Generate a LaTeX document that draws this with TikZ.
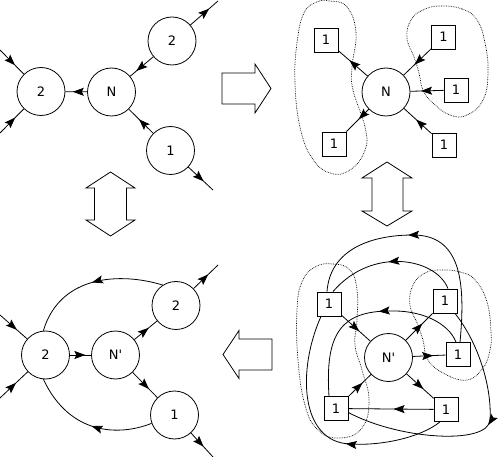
\documentclass[tikz,border=0pt]{standalone}
\usepackage{fontspec}
\setmainfont{DejaVu Sans}[Ligatures=TeXOff]
\usetikzlibrary{arrows.meta,decorations.markings,calc}
\tikzset{
  cnode/.style={circle,draw,line width=0.8pt,minimum size=48pt,inner sep=0pt,font=\fontsize{13}{15}\selectfont},
  bnode/.style={rectangle,draw,line width=0.8pt,minimum size=24pt,inner sep=0pt,font=\fontsize{13}{15}\selectfont},
  ln/.style={line width=0.8pt},
  mid/.style={postaction={decorate},decoration={markings,mark=at position #1 with {\arrow{Stealth[length=11pt,width=8pt,inset=2pt]}}}},
  mid/.default=0.65,
  loopd/.style={densely dotted,line width=0.7pt},
  bigarrow/.style={draw,line width=0.8pt,line join=miter},
}
\begin{document}
\begin{tikzpicture}[x=1pt,y=-1pt]
\useasboundingbox (0,0) rectangle (498,457);

% ---------- top-left panel ----------
\node[cnode] (L2) at (41,91.5) {2};
\node[cnode] (N1) at (111.5,92) {N};
\node[cnode] (T2) at (172,41) {2};
\node[cnode] (B1) at (170.5,150.5) {1};
\coordinate (a1) at (0,50);
\coordinate (a2) at (0,133);
\coordinate (a3) at (218,1);
\coordinate (a4) at (213,190);
\draw[ln,mid=0.66] (N1) -- (L2);
\draw[ln,mid=0.73] (T2) -- (N1);
\draw[ln,mid=0.58] (B1) -- (N1);
\draw[ln,mid=0.68] (T2) -- (a3);
\draw[ln,mid=0.62] (B1) -- (a4);
\draw[ln,mid=0.63] (a1) -- (L2);
\draw[ln,mid=0.64] (a2) -- (L2);

% ---------- top-right panel ----------
\node[cnode] (N2) at (386,92) {N};
\node[bnode] (TL2) at (326,40) {1};
\node[bnode] (BL2) at (334,144) {1};
\node[bnode] (TR2) at (443.5,37) {1};
\node[bnode] (MR2) at (456,90) {1};
\node[bnode] (BR2) at (444,145) {1};
\draw[ln,mid=0.62] (N2) -- (TL2);
\draw[ln,mid=0.45] (N2) -- (BL2);
\draw[ln,mid=0.6] (TR2) -- (N2);
\draw[ln,mid=0.68] (MR2) -- (N2);
\draw[ln,mid=0.56] (BR2) -- (N2);
\draw[loopd] plot[smooth cycle,tension=0.75] coordinates {
  (330,1) (347,7) (356,33) (352,67) (353,90) (365,127) (365,150) (350,170)
  (330,173) (312,158) (300,127) (295,83) (297,43) (304,13) (317,2)};
\draw[loopd] plot[smooth cycle,tension=0.75] coordinates {
  (440,6) (462,9) (477,20) (485,43) (488,73) (483,100) (467,115) (450,115)
  (433,103) (423,90) (419,73) (414,57) (407,38) (411,20) (423,10)};

% ---------- bottom-left panel ----------
\node[cnode] (L2b) at (45.5,355) {2};
\node[cnode] (Npb) at (115.5,355) {N'};
\node[cnode] (T2b) at (176,305.5) {2};
\node[cnode] (B1b) at (174.5,415) {1};
\coordinate (b1) at (0,315);
\coordinate (b2) at (0,398);
\coordinate (b3) at (218,265);
\coordinate (b4) at (213,457);
\draw[ln,mid=0.73] (L2b) -- (Npb);
\draw[ln,mid=0.63] (Npb) -- (T2b);
\draw[ln,mid=0.66] (Npb) -- (B1b);
\draw[ln,mid=0.6] (T2b) -- (b3);
\draw[ln,mid=0.57] (B1b) -- (b4);
\draw[ln,mid=0.62] (b1) -- (L2b);
\draw[ln,mid=0.58] (b2) -- (L2b);
\draw[ln,mid=0.5] (T2b.123) .. controls (120,272) and (60,275) .. (L2b.95);
\draw[ln,mid=0.47] (B1b.200) .. controls (120,436) and (70,436) .. (L2b.265);

% ---------- bottom-right panel ----------
\node[cnode] (Np) at (388.5,357.5) {N'};
\node[bnode] (TL) at (329,304) {1};
\node[bnode] (TR) at (445,301) {1};
\node[bnode] (MR) at (458,354.5) {1};
\node[bnode] (BL) at (336,408.5) {1};
\node[bnode] (BR) at (446,409.5) {1};
\draw[ln,mid=0.62] (TL) -- (Np);
\draw[ln,mid=0.62] (Np) -- (TR);
\draw[ln,mid=0.62] (Np) -- (MR);
\draw[ln,mid=0.62] (BL) -- (Np);
\draw[ln,mid=0.62] (Np) -- (BR);
\draw[ln,mid=0.47] (BR) -- (BL);
\draw[ln,mid=0.56] ([xshift=2pt]MR.north) .. controls (466,280) and (460,235) .. (413,235)
   .. controls (370,235) and (330,250) .. ([xshift=-2pt]TL.north);
\draw[ln,mid=0.52] ([xshift=3pt]TR.north) .. controls (436,258) and (372,246) .. ([xshift=4pt]TL.north);
\draw[ln,mid=0.44] ([xshift=-2pt]MR.north) .. controls (448,322) and (420,310) .. (390,311)
   .. controls (340,311) and (325,335) .. ([xshift=-7pt]BL.north);
\draw[ln,mid=0.4] ([xshift=-6pt]BR.south) .. controls (420,438) and (380,446) .. (350,444)
   .. controls (300,442) and (297,370) .. ([xshift=-8pt]TL.south);
\draw[ln,mid=0.45] ([xshift=10pt]TR.south) .. controls (480,345) and (492,390) .. (490,420)
   .. controls (488,445) and (400,440) .. ([yshift=-4pt]BL.east);
\draw[loopd] plot[smooth cycle,tension=0.75] coordinates {
  (333,264) (350,270) (357,290) (357,320) (355,345) (362,370) (369,400) (362,428)
  (340,438) (318,430) (305,405) (298,360) (297,310) (302,282) (315,267)};
\draw[loopd] plot[smooth cycle,tension=0.75] coordinates {
  (440,270) (460,272) (475,280) (487,302) (491,332) (490,350) (483,368) (467,380)
  (445,374) (428,360) (423,340) (418,325) (410,305) (413,285) (425,273)};

% ---------- big hollow arrows ----------
\draw[bigarrow] (222,73) -- (255,73) -- (255,64) -- (271,88.5) -- (255,113) -- (255,104) -- (222,104) -- cycle;
\draw[bigarrow] (223,354.5) -- (239,330.5) -- (239,339) -- (272,339) -- (272,370) -- (239,370) -- (239,378.5) -- cycle;
\draw[bigarrow] (110.5,172) -- (135,188) -- (126.5,188) -- (126.5,220) -- (135,220) -- (110.5,236)
   -- (86,220) -- (94.5,220) -- (94.5,188) -- (86,188) -- cycle;
\draw[bigarrow] (387,162) -- (412,178) -- (403,178) -- (403,211) -- (412,211) -- (387,226)
   -- (362,211) -- (372,211) -- (372,178) -- (362,178) -- cycle;
\end{tikzpicture}
\end{document}
